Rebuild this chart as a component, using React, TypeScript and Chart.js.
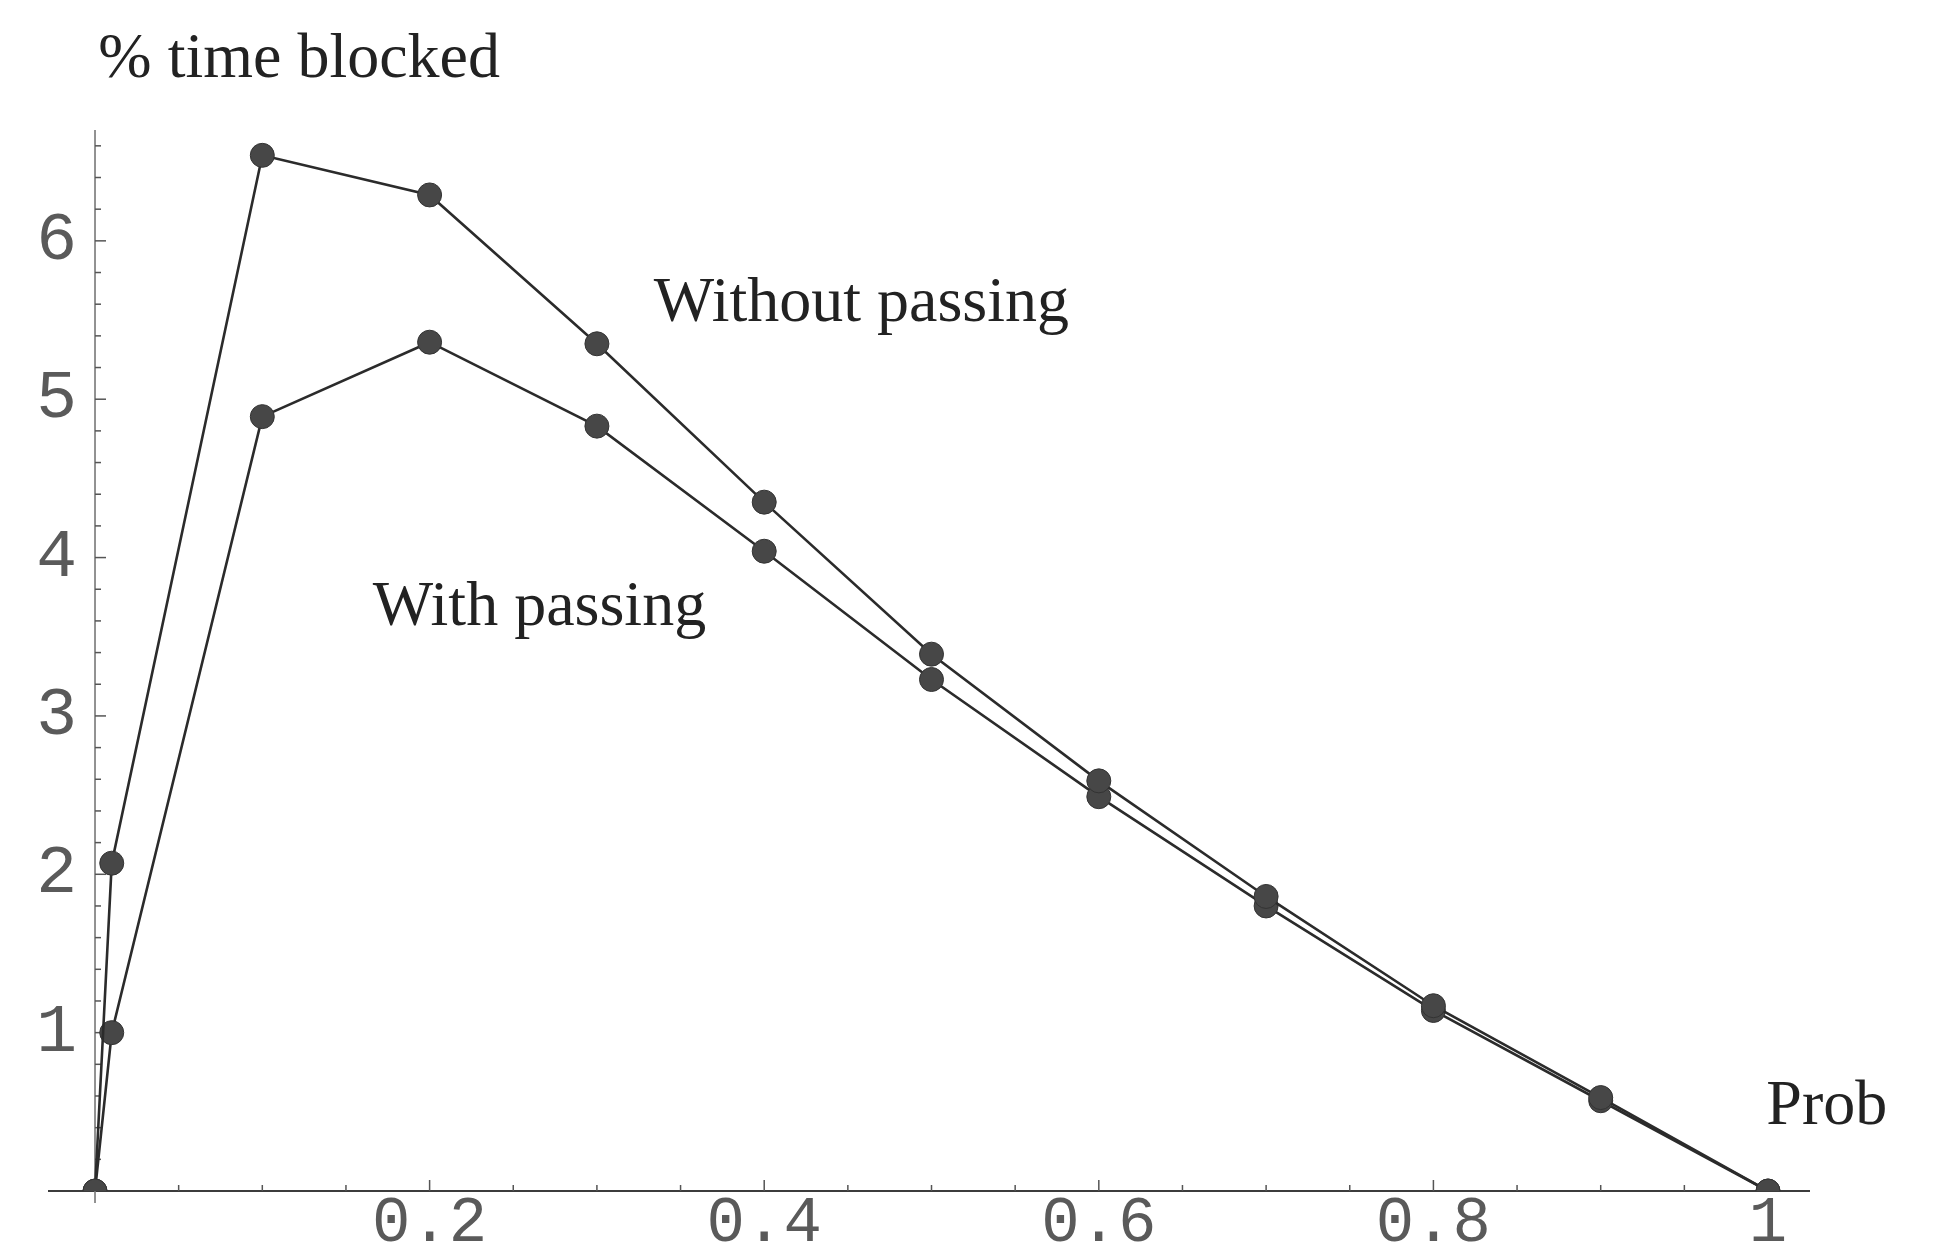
import React, { useEffect, useRef } from "react";
import { Chart, registerables } from "chart.js";

Chart.register(...registerables);

// ---- data ----
const probValues = [0, 0.01, 0.1, 0.2, 0.3, 0.4, 0.5, 0.6, 0.7, 0.8, 0.9, 1];
const withoutPassing = [0, 2.07, 6.54, 6.29, 5.35, 4.35, 3.39, 2.59, 1.86, 1.17, 0.59, 0];
const withPassing = [0, 1.0, 4.89, 5.36, 4.83, 4.04, 3.23, 2.49, 1.8, 1.14, 0.57, 0];

const xTickValues = [0.2, 0.4, 0.6, 0.8, 1];
const xTickLabels = ["0.2", "0.4", "0.6", "0.8", "1"];
const yTickValues = [1, 2, 3, 4, 5, 6];
const yTickLabels = ["1", "2", "3", "4", "5", "6"];

const xMinorStep = 0.05;
const yMinorStep = 0.2;

// text annotations, anchored in data coordinates (left edge, vertical middle)
const annotationTexts = ["% time blocked", "Without passing", "With passing", "Prob"];
const annotationX = [0.002, 0.334, 0.166, 0.999];
const annotationY = [7.14, 5.6, 3.68, 0.53];

const X_MIN = -0.0275;
const X_MAX = 1.0245;
const Y_MIN = 0;
const Y_MAX = 6.7;
// x value at which the y tick labels are right-aligned (a little left of the y axis)
const Y_LABEL_ANCHOR = -0.0108;

const axisAndTicks = {
  id: "axisAndTicks",
  beforeDatasetsDraw(chart: any) {
    const { ctx, chartArea } = chart;
    const xs = chart.scales.x;
    const ys = chart.scales.y;
    const y0 = ys.getPixelForValue(0);
    const x0 = xs.getPixelForValue(0);
    ctx.save();
    // y axis line at x = 0
    ctx.strokeStyle = "#777";
    ctx.lineWidth = 1.6;
    ctx.beginPath();
    ctx.moveTo(x0, chartArea.top);
    ctx.lineTo(x0, chartArea.bottom + 12);
    ctx.stroke();
    // inward ticks
    ctx.strokeStyle = "#555";
    ctx.lineWidth = 1.5;
    for (let i = 1; i * xMinorStep <= X_MAX + 1e-9; i++) {
      const v = i * xMinorStep;
      const major = xTickValues.some((t) => Math.abs(t - v) < 1e-6);
      const px = xs.getPixelForValue(v);
      ctx.beginPath();
      ctx.moveTo(px, y0);
      ctx.lineTo(px, y0 - (major ? 11 : 6));
      ctx.stroke();
    }
    for (let i = 1; i * yMinorStep <= Y_MAX + 1e-9; i++) {
      const v = i * yMinorStep;
      const major = yTickValues.some((t) => Math.abs(t - v) < 1e-6);
      const py = ys.getPixelForValue(v);
      ctx.beginPath();
      ctx.moveTo(x0, py);
      ctx.lineTo(x0 + (major ? 11 : 6), py);
      ctx.stroke();
    }
    ctx.restore();
  },
};

const annotations = {
  id: "textAnnotations",
  afterDraw(chart: any) {
    const { ctx } = chart;
    const xs = chart.scales.x;
    const ys = chart.scales.y;
    ctx.save();
    ctx.fillStyle = "#222";
    ctx.font = '64px "Liberation Serif", "Times New Roman", serif';
    ctx.textAlign = "left";
    ctx.textBaseline = "middle";
    annotationTexts.forEach((t, i) => {
      ctx.fillText(t, xs.getPixelForValue(annotationX[i]), ys.getPixelForValue(annotationY[i]));
    });
    ctx.restore();
  },
};

export default function App() {
  const ref = useRef<HTMLCanvasElement | null>(null);

  useEffect(() => {
    if (!ref.current) return;
    const lineStyle = {
      borderColor: "#2b2b2b",
      borderWidth: 2.6,
      pointRadius: 12,
      pointBackgroundColor: "#474747",
      pointBorderColor: "#333",
      pointBorderWidth: 1,
      tension: 0,
      fill: false,
    };
    const chart = new Chart(ref.current, {
      type: "line",
      data: {
        datasets: [
          {
            label: "Without passing",
            data: probValues.map((x, i) => ({ x, y: withoutPassing[i] })),
            ...lineStyle,
          },
          {
            label: "With passing",
            data: probValues.map((x, i) => ({ x, y: withPassing[i] })),
            ...lineStyle,
          },
        ],
      },
      options: {
        animation: false,
        responsive: false,
        devicePixelRatio: 1,
        layout: { padding: { left: 49, right: 127, top: 130, bottom: 62 } },
        plugins: {
          legend: { display: false },
          tooltip: { enabled: false },
        },
        scales: {
          x: {
            type: "linear",
            min: X_MIN,
            max: X_MAX,
            position: { y: 0 } as any,
            afterBuildTicks: (s: any) => {
              s.ticks = xTickValues.map((v) => ({ value: v }));
            },
            ticks: {
              callback: (v: any) => {
                const i = xTickValues.findIndex((t) => Math.abs(t - Number(v)) < 1e-6);
                return i >= 0 ? xTickLabels[i] : "";
              },
              font: { family: '"Liberation Mono", "Courier New", monospace', size: 64 },
              color: "#5a5a5a",
              padding: -13,
              maxRotation: 0,
              autoSkip: false,
            },
            grid: { display: false },
            border: { display: true, color: "#3c3c3c", width: 2 },
          },
          y: {
            type: "linear",
            min: Y_MIN,
            max: Y_MAX,
            position: { x: Y_LABEL_ANCHOR } as any,
            afterBuildTicks: (s: any) => {
              s.ticks = yTickValues.map((v) => ({ value: v }));
            },
            ticks: {
              callback: (v: any) => {
                const i = yTickValues.findIndex((t) => Math.abs(t - Number(v)) < 1e-6);
                return i >= 0 ? yTickLabels[i] : "";
              },
              font: { family: '"Liberation Mono", "Courier New", monospace', size: 68 },
              color: "#5a5a5a",
              padding: 0,
              autoSkip: false,
            },
            grid: { display: false },
            border: { display: false },
          },
        },
      },
      plugins: [axisAndTicks, annotations],
    });
    return () => chart.destroy();
  }, []);

  return (
    <div style={{ position: "absolute", left: 0, top: 0, width: 1936, height: 1253, background: "#fff" }}>
      <canvas ref={ref} width={1936} height={1253} style={{ display: "block" }} />
    </div>
  );
}
